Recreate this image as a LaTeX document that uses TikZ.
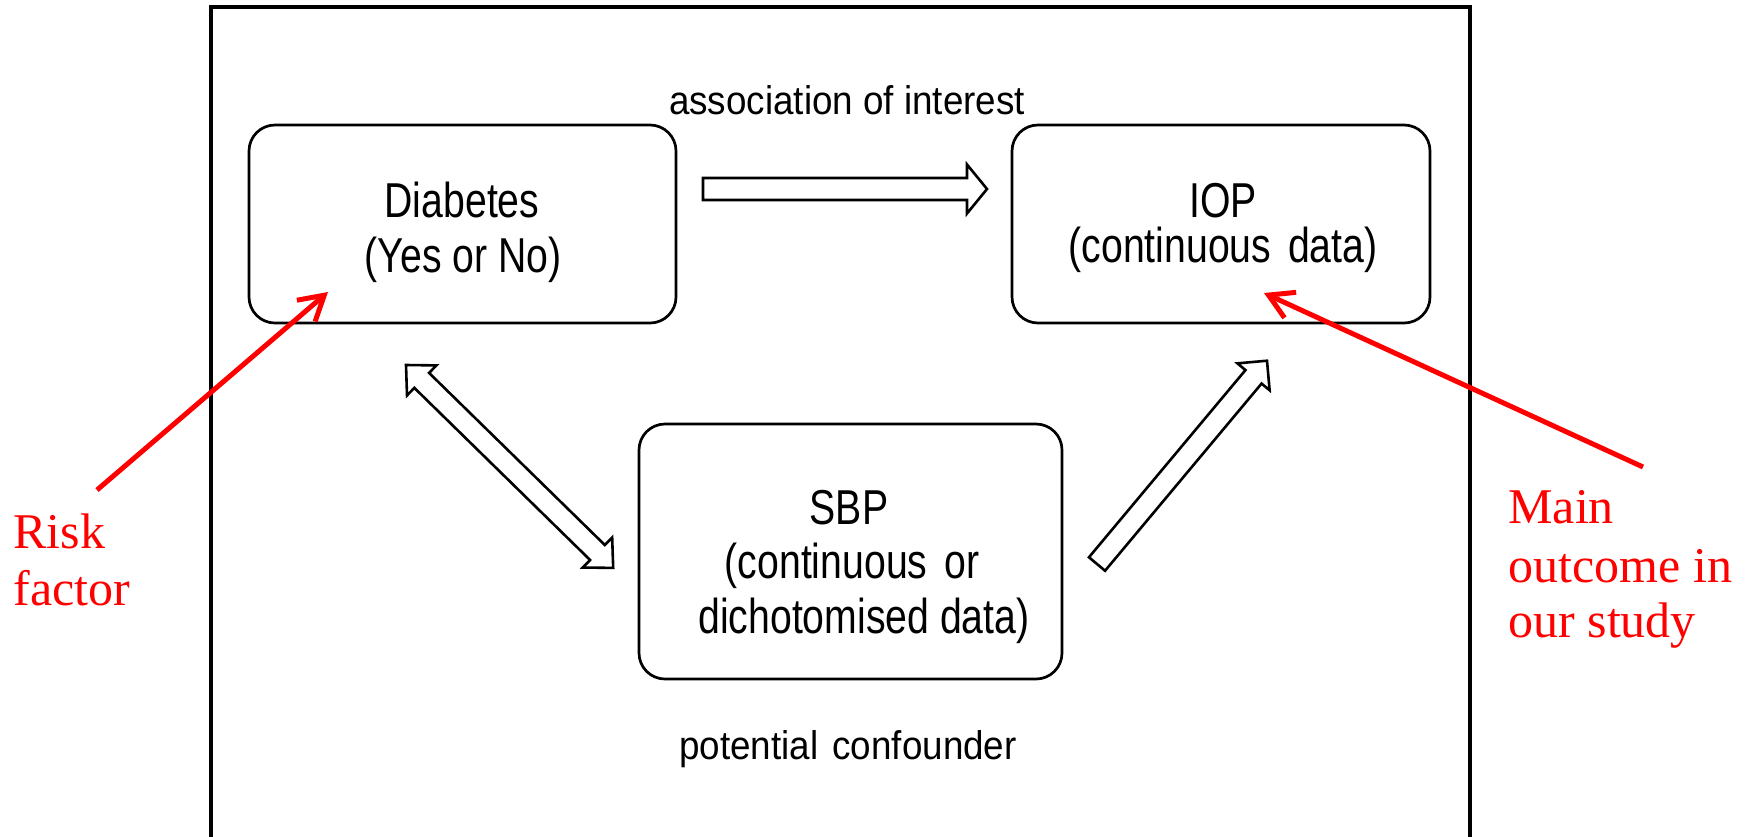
\documentclass[tikz,border=0pt]{standalone}
\usepackage{fontspec}
\setmainfont{Liberation Sans}
\newfontfamily\boxfont[FakeStretch=0.8]{Liberation Sans}
\newfontfamily\labfont[FakeStretch=0.92]{Liberation Sans}
\newfontfamily\redfont{Liberation Serif}
\usetikzlibrary{arrows.meta,calc}
\definecolor{pptred}{RGB}{255,0,0}
\begin{document}
\begin{tikzpicture}[x=0.5pt,y=-0.5pt,
  box/.style={draw=black, line width=1.35pt, rounded corners=13pt, inner sep=0pt},
  boxtxt/.style={font=\boxfont\fontsize{24.5}{29}\selectfont, inner sep=0pt, anchor=base},
  labtxt/.style={font=\labfont\fontsize{20}{24}\selectfont, inner sep=0pt, anchor=base},
  redtxt/.style={font=\redfont\fontsize{25}{28.5}\selectfont, text=pptred, inner sep=0pt, anchor=base west},
  blockarrow/.style={draw=black, fill=white, line width=1.3pt, line join=miter},
  redarrow/.style={draw=pptred, line width=2.5pt, -{Straight Barb[length=12pt,width=14pt]}}
]
\useasboundingbox (0,0) rectangle (1754,836);
\clip (0,0) rectangle (1754,836);
\fill[white] (0,0) rectangle (1754,836);

% frame
\draw[line width=1.65pt] (211,7) rectangle (1470,900);

% boxes
\node[box, minimum width=213.5pt, minimum height=99pt] (diab) at (462.5,224) {};
\node[box, minimum width=209pt, minimum height=99pt] (iop) at (1221,224) {};
\node[box, minimum width=211.5pt, minimum height=127.5pt] (sbp) at (850.5,551.5) {};

% box texts
\node[boxtxt] (diab1) at (462,217) {Diabetes};
\node[boxtxt] (diab2) at (463,272) {(Yes or No)};
\node[boxtxt] (iop1) at (1223,217) {IOP};
\node[boxtxt] (iop2) at (1223,262) {(continuous\hspace{3pt} data)};
\node[boxtxt] (sbp1) at (849,524) {SBP};
\node[boxtxt] (sbp2) at (852,578) {(continuous\hspace{3pt} or};
\node[boxtxt] (sbp3) at (864,633) {dichotomised data)};

% labels
\node[labtxt] (assoc) at (847,114) {association of interest};
\node[labtxt] (conf) at (848,759) {potential\hspace{2pt} confounder};

% red texts
\node[redtxt] (risk1) at (13,548) {Risk};
\node[redtxt] (risk2) at (13,605) {factor};
\node[redtxt] (main1) at (1508,523) {Main};
\node[redtxt] (main2) at (1508,582) {outcome in};
\node[redtxt] (main3) at (1508,637) {our study};

% block arrows
\coordinate (h0) at (703,189);
\begin{scope}[shift={(h0)}]
  \draw[blockarrow] (0,-11) -- (264,-11) -- (264,-24.5) -- (284,0) -- (264,24.5) -- (264,11) -- (0,11) -- cycle;
\end{scope}
\coordinate (d0) at (406,365);
\begin{scope}[shift={(d0)}, rotate=-44.4]
  \draw[blockarrow] (0,0) -- (22,-21) -- (22,-10.5) -- (268,-10.5) -- (268,-21) -- (290,0) -- (268,21) -- (268,10.5) -- (22,10.5) -- (22,21) -- cycle;
\end{scope}
\coordinate (r0) at (1097,564);
\begin{scope}[shift={(r0)}, rotate=50.1]
  \draw[blockarrow] (0,-10.5) -- (244,-10.5) -- (244,-21) -- (265,0) -- (244,21) -- (244,10.5) -- (0,10.5) -- cycle;
\end{scope}

% red arrows
\coordinate (rfTail) at (97,490);
\coordinate (rfTip) at (328,292);
\draw[redarrow] (rfTail) -- (rfTip);
\coordinate (moTail) at (1643,467);
\coordinate (moTip) at (1264,293);
\draw[redarrow] (moTail) -- (moTip);
\end{tikzpicture}
\end{document}
